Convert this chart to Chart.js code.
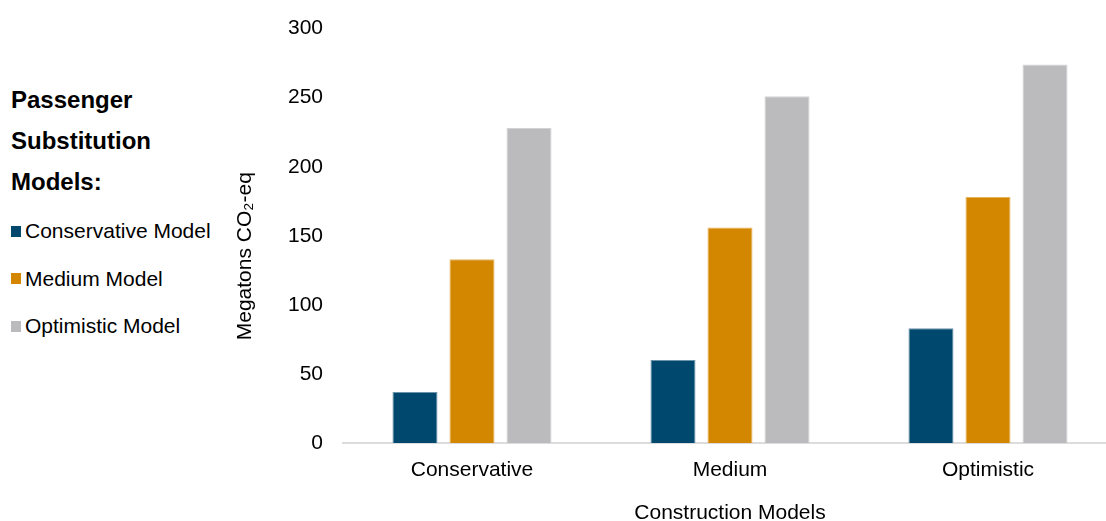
<!DOCTYPE html>
<html>
<head>
<meta charset="utf-8">
<script src="https://cdn.jsdelivr.net/npm/chart.js@4/dist/chart.umd.min.js"></script>
<style>
  html, body { margin: 0; padding: 0; background: #fff; overflow: hidden; width: 1106px; height: 521px; }
  body { position: relative; font-family: "Liberation Sans", Arial, sans-serif; color: #000; }
  #legendTitle { position: absolute; left: 11px; top: 79px; font-size: 24px; font-weight: bold; line-height: 41px; }
  .item { position: absolute; left: 11px; height: 24px; line-height: 24px; font-size: 21px; display: flex; align-items: center; white-space: nowrap; }
  .box { width: 10px; height: 11px; margin-right: 4px; }
  #wrap { position: absolute; left: 225px; top: -4px; width: 892px; height: 530px; }
</style>
</head>
<body>
<div id="legendTitle">Passenger<br>Substitution<br>Models:</div>
<div id="legend"></div>
<div id="wrap"><canvas id="c"></canvas></div>
<script>
const categories = ["Conservative", "Medium", "Optimistic"];
const seriesNames = ["Conservative Model", "Medium Model", "Optimistic Model"];
const conservativeValues = [37, 60, 83];
const mediumValues = [133, 156, 178];
const optimisticValues = [228, 251, 274];
const yTicks = [0, 50, 100, 150, 200, 250, 300];
const xTitle = "Construction Models";
const yTitle = "Megatons CO\u2082-eq";

const colors = ["#00486E", "#D38600", "#BBBBBD"];
const borders = ["#6F93AB", "#E8B25C", "#D2D2D4"];
const seriesValues = [conservativeValues, mediumValues, optimisticValues];

const font = { family: "'Liberation Sans', Arial, sans-serif", size: 21 };

const chart = new Chart(document.getElementById('c'), {
  type: 'bar',
  data: {
    labels: categories,
    datasets: seriesNames.map((n, i) => ({
      label: n,
      data: seriesValues[i],
      backgroundColor: colors[i],
      borderColor: borders[i],
      borderWidth: 1,
      categoryPercentage: 0.663,
      barPercentage: 0.79
    }))
  },
  options: {
    responsive: true,
    maintainAspectRatio: false,
    animation: false,
    layout: { padding: { top: 23, left: 0, right: 0, bottom: 0 } },
    plugins: { legend: { display: false }, tooltip: { enabled: false } },
    scales: {
      x: {
        grid: { display: false, drawTicks: false },
        border: { display: true, color: '#DCDCDC', width: 2 },
        ticks: { color: '#000', font: font, padding: 15, maxRotation: 0 },
        title: { display: true, text: xTitle, color: '#000', font: font, padding: { top: 18, bottom: 0 } },
        afterFit: s => { s.height = 83; }
      },
      y: {
        min: 0, max: 300,
        afterBuildTicks: s => { s.ticks = yTicks.map(v => ({ value: v })); },
        grid: { display: false, drawTicks: false },
        border: { display: false },
        ticks: { color: '#000', font: font, padding: 20 },
        title: { display: true, text: yTitle + "\u00A0\u00A0\u00A0\u00A0\u00A0\u00A0\u00A0", color: '#000', font: font, padding: { top: 8, bottom: 0 } },
        afterFit: s => { s.width = 118; }
      }
    }
  }
});

const legend = document.getElementById('legend');
const centers = [231, 278.5, 326];
chart.data.datasets.forEach((ds, i) => {
  const d = document.createElement('div');
  d.className = 'item';
  d.style.top = (centers[i] - 12) + 'px';
  const b = document.createElement('span');
  b.className = 'box';
  b.style.background = ds.backgroundColor;
  d.appendChild(b);
  d.appendChild(document.createTextNode(ds.label));
  legend.appendChild(d);
});
</script>
</body>
</html>
